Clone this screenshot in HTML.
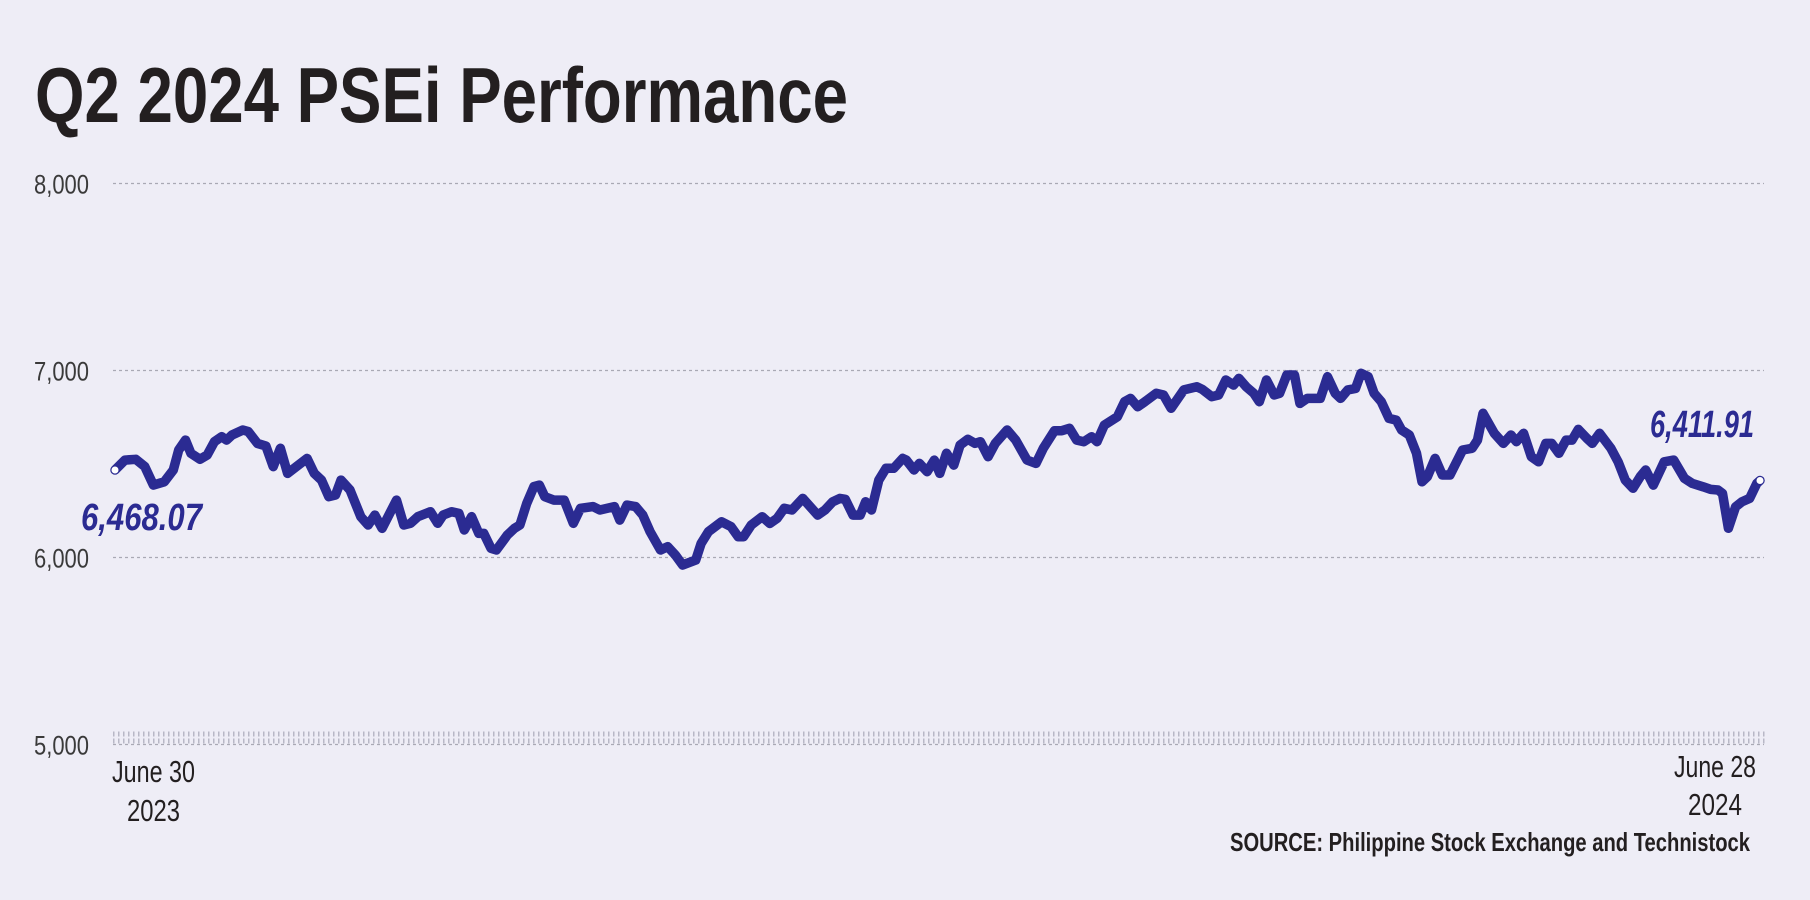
<!DOCTYPE html>
<html><head><meta charset="utf-8"><style>
html,body{margin:0;padding:0;background:#eeedf6;}
svg{display:block;}
text{font-family:"Liberation Sans",sans-serif;}
</style></head><body>
<svg id="chart" width="1810" height="900" viewBox="0 0 1810 900" xmlns="http://www.w3.org/2000/svg">
<rect x="0" y="0" width="1810" height="900" fill="#eeedf6"/>
<text x="35" y="122" font-size="78" font-weight="bold" fill="#231f20" textLength="813" lengthAdjust="spacingAndGlyphs">Q2 2024 PSEi Performance</text>
<g id="grid"></g>
<g id="yticks"></g>
<line x1="113" y1="734" x2="1766" y2="734" stroke="#b8b8c6" stroke-width="5" stroke-dasharray="1.5 3.5"/>
<line x1="113" y1="741" x2="1766" y2="741" stroke="#b8b8c6" stroke-width="5" stroke-dasharray="1.5 3.5"/>
<path id="line" fill="none" stroke="#2b2b92" stroke-width="9.5" stroke-linejoin="round" stroke-linecap="round"/>
<circle id="startDot" r="3.5" fill="#ffffff"/>
<circle id="endDot" r="3.5" fill="#ffffff"/>
<text x="81" y="530" font-size="38" font-weight="bold" font-style="italic" fill="#2b2b92" textLength="121" lengthAdjust="spacingAndGlyphs">6,468.07</text>
<text x="1650" y="437" font-size="38" font-weight="bold" font-style="italic" fill="#2b2b92" textLength="104" lengthAdjust="spacingAndGlyphs">6,411.91</text>
<text x="112" y="782" font-size="31" fill="#231f20" textLength="83" lengthAdjust="spacingAndGlyphs">June 30</text>
<text x="127" y="821" font-size="31" fill="#231f20" textLength="53" lengthAdjust="spacingAndGlyphs">2023</text>
<text x="1674" y="777" font-size="31" fill="#231f20" textLength="82" lengthAdjust="spacingAndGlyphs">June 28</text>
<text x="1688" y="815" font-size="31" fill="#231f20" textLength="54" lengthAdjust="spacingAndGlyphs">2024</text>
<text x="1230" y="851" font-size="26" font-weight="bold" fill="#231f20" textLength="520" lengthAdjust="spacingAndGlyphs">SOURCE: Philippine Stock Exchange and Technistock</text>
</svg>
<script>
const dayIdx = [0,2.2,4.6,6.6,8.5,10.9,12.9,14.1,15.6,16.8,18.8,20.4,22,23.6,24.7,25.9,28.3,29.5,31.5,33.4,35,36.6,38.2,42.5,44.1,45.7,47.3,48.8,50,52,54.4,56,57.5,59.1,62.3,63.9,65.4,67,69.8,71.4,72.6,74.5,76.1,77.3,78.9,80.5,81.6,83.2,84.4,86.8,88.4,89.6,91.1,92.7,93.9,95.1,97.1,99.4,101.4,103,105.8,107.3,110.5,111.7,113.3,115.2,116.8,118.4,120.7,122.3,124,125.6,128.5,129.7,131.3,134.2,136.3,137.9,139.1,140.8,143.2,144.9,146.5,148.1,149.8,152.2,155.5,157.1,158.8,160.4,161.6,163.3,164.9,166.1,167.4,169,170.6,172.3,174.3,175.1,176.8,178,179.7,181.3,182.5,184,185.6,187,188.7,190.3,191.5,193.2,194.8,197.4,199.3,201.8,203.8,205.4,207.9,209.5,211.2,212.8,214.4,216.1,217.3,218.9,221.8,223.4,224.7,226.3,227.9,230.4,232,233.7,236.5,239.4,240.6,242.7,244.2,245.8,247.5,248.7,250.3,252,253.2,254.8,256.5,257.7,259.3,261,262.2,263.8,266.7,268.3,270,271.2,272.8,274.5,275.7,277.3,278.6,280.2,281.9,283.5,284.7,286.4,288,289.2,290.4,292.1,293.7,295.4,298.2,300.3,301.5,302.7,305.2,307.2,308.9,310.1,311.7,313.4,315,316.6,317.9,319.5,321.1,322.4,323.8,325.7,326.9,328.5,331,332.6,334.2,335.9,337.5,338.7,340.4,342.8,344.9,347.3,349,351.4,353.1,354.7,355.7,357,358.6,360,361.7,363.3,364];
const pseiValues = [6468.07,6521,6525,6486,6387,6405,6468,6575,6628,6557,6525,6548,6619,6646,6628,6655,6682,6673,6610,6596,6486,6584,6450,6530,6450,6414,6325,6334,6414,6361,6218,6174,6227,6156,6307,6174,6183,6218,6245,6183,6227,6245,6236,6147,6218,6129,6129,6049,6040,6120,6156,6174,6289,6379,6387,6325,6307,6307,6183,6263,6272,6254,6272,6200,6280,6272,6227,6138,6040,6058,6013,5960,5986,6075,6138,6191,6165,6111,6111,6174,6218,6182,6209,6263,6254,6316,6227,6254,6298,6316,6311,6227,6227,6298,6254,6414,6477,6477,6530,6521,6468,6503,6459,6521,6450,6557,6494,6601,6632,6610,6619,6539,6610,6682,6628,6521,6503,6584,6678,6678,6691,6628,6619,6646,6619,6708,6753,6833,6851,6806,6833,6878,6869,6798,6896,6913,6899,6860,6869,6949,6922,6958,6913,6878,6833,6949,6869,6878,6976,6976,6824,6851,6851,6967,6878,6851,6896,6904,6985,6967,6878,6833,6744,6735,6682,6655,6557,6405,6432,6530,6441,6441,6575,6584,6628,6771,6664,6610,6655,6619,6664,6539,6512,6610,6610,6557,6628,6628,6685,6637,6610,6664,6584,6512,6414,6370,6432,6468,6387,6512,6521,6423,6396,6378,6364,6361,6343,6156,6271,6298,6316,6396,6411.91];
const yTicks = [5000,6000,7000,8000];
const yTickLabels = ["5,000","6,000","7,000","8,000"];
const totalDays = 364;

const NS = "http://www.w3.org/2000/svg";
const X0 = 115, X1 = 1760, Y_TOP = 183.5, Y_BOT = 744.5, V_MIN = 5000, V_MAX = 8000;
function xScale(d){ return X0 + d / totalDays * (X1 - X0); }
function yScale(v){ return Y_BOT - (v - V_MIN) / (V_MAX - V_MIN) * (Y_BOT - Y_TOP); }

const grid = document.getElementById('grid');
const yt = document.getElementById('yticks');
yTicks.forEach((t, i) => {
  const y = yScale(t);
  const ln = document.createElementNS(NS, 'line');
  
  
  ln.setAttribute('x1', 113); ln.setAttribute('x2', 1764);
  ln.setAttribute('y1', y); ln.setAttribute('y2', y);
  ln.setAttribute('stroke', '#a9a9b4'); ln.setAttribute('stroke-width', '1.2');
  ln.setAttribute('stroke-dasharray', '3 3');
  grid.appendChild(ln);
  const tx = document.createElementNS(NS, 'text');
  
  
  tx.setAttribute('x', 89); tx.setAttribute('y', y + 10);
  tx.setAttribute('text-anchor', 'end');
  tx.setAttribute('font-size', '27');
  tx.setAttribute('fill', '#3a3a3a');
  tx.setAttribute('textLength', '55');
  tx.setAttribute('lengthAdjust', 'spacingAndGlyphs');
  tx.textContent = yTickLabels[i];
  yt.appendChild(tx);
});

let d = '';
dayIdx.forEach((day, i) => {
  d += (i ? 'L' : 'M') + xScale(day).toFixed(1) + ' ' + yScale(pseiValues[i]).toFixed(1) + ' ';
});
document.getElementById('line').setAttribute('d', d);
const n = dayIdx.length - 1;
const sd = document.getElementById('startDot');
sd.setAttribute('cx', xScale(dayIdx[0])); sd.setAttribute('cy', yScale(pseiValues[0]));
const ed = document.getElementById('endDot');
ed.setAttribute('cx', xScale(dayIdx[n])); ed.setAttribute('cy', yScale(pseiValues[n]));
</script>
</body></html>
